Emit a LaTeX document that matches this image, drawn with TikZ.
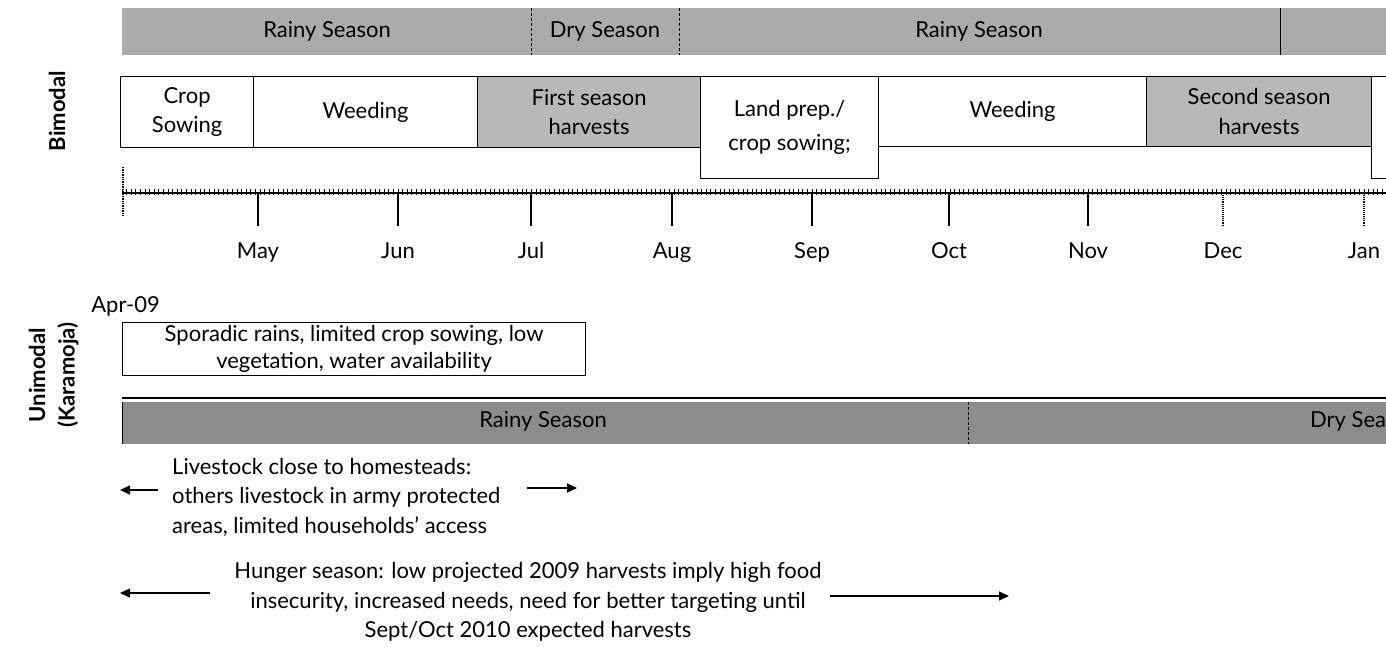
\documentclass[tikz,border=0pt]{standalone}
\usepackage{fontspec}
\setmainfont{Lato}
\usetikzlibrary{arrows.meta}
\begin{document}
\begin{tikzpicture}[x=1pt,y=-1pt,
  every node/.style={font=\fontsize{22}{29.5}\selectfont, inner sep=0pt, text=black},
  seasonbar/.style={fill=black!33, draw=none, anchor=north west, minimum height=47pt},
  unibar/.style={fill=black!45, draw=none, anchor=north west, minimum height=42pt},
  actbox/.style={draw=black, line width=1.2pt, fill=white, anchor=north west, align=center},
  harvbox/.style={draw=black, line width=1.2pt, fill=black!28, anchor=north west, align=center},
  sidelbl/.style={rotate=90, font=\fontsize{22}{24}\selectfont\bfseries},
  arr/.style={line width=1.4pt, -{Triangle[length=10pt,width=9pt]}},
  divider/.style={line width=0.8pt, densely dashed},
  majtick/.style={line width=1.1pt},
  dottick/.style={line width=1.1pt, densely dotted}
]
\useasboundingbox (0,0) rectangle (1386,646);
\clip (0,0) rectangle (1386,646);

% ---------- Bimodal: seasons ----------
\node[seasonbar, minimum width=409pt] (rs1) at (122,8) {};
\node[seasonbar, minimum width=148pt] (ds1) at (531,8) {};
\node[seasonbar, minimum width=601pt] (rs2) at (679,8) {};
\node[seasonbar, minimum width=130pt] (xs1) at (1280,8) {};
\node (rs1t) at (327,31) {Rainy Season};
\node (ds1t) at (605,31) {Dry Season};
\node (rs2t) at (979,31) {Rainy Season};
\draw[divider] (ds1.north west) -- (ds1.south west);
\draw[divider] (rs2.north west) -- (rs2.south west);
\draw[line width=0.8pt] (xs1.north west) -- (xs1.south west);

% ---------- Bimodal: activities ----------
\node[actbox, minimum width=133pt, minimum height=71pt] (cs) at (120,76) {Crop\\Sowing};
\node[actbox, minimum width=224pt, minimum height=71pt] (wd1) at (253,76) {Weeding};
\node[harvbox, minimum width=223pt, minimum height=71pt] (fh) at (477,76) {First season\\harvests};
\node[actbox, minimum width=178pt, minimum height=102pt, font=\fontsize{22}{34}\selectfont] (lp) at (700,76) {Land prep./\\crop sowing;};
\node[actbox, minimum width=268pt, minimum height=70pt] (wd2) at (878,76) {Weeding};
\node[harvbox, minimum width=225pt, minimum height=70pt] (sh) at (1146,76) {Second season\\harvests};
\node[actbox, minimum width=60pt, minimum height=102pt] (nx) at (1371,76) {};

\node[sidelbl] (bim) at (57,111) {Bimodal};

% ---------- time axis ----------
\coordinate (ax0) at (122,193);
\coordinate (ax1) at (1390,193);
\draw[line width=2.4pt] (ax0) -- (ax1);
\foreach \i in {0,...,276} {
  \draw[line width=0.8pt] (122+\i*4.6,188.5) -- (122+\i*4.6,195);
}
\coordinate (lt0) at (123,167);
\coordinate (lt1) at (123,216);
\draw[line width=1.4pt, densely dotted] (lt0) -- (lt1);
\foreach \x/\m in {258/May,398/Jun,531/Jul,672/Aug,812/Sep,949/Oct,1088/Nov} {
  \coordinate (t\m) at (\x,193);
  \draw[majtick] (t\m) -- ++(0,33);
  \node[anchor=base] (l\m) at (\x,258) {\m};
}
\foreach \x/\m in {1223/Dec,1364/Jan} {
  \coordinate (t\m) at (\x,193);
  \draw[dottick] (t\m) -- ++(0,33);
  \node[anchor=base] (l\m) at (\x,258) {\m};
}

% ---------- Unimodal ----------
\node[anchor=east] (apr) at (160,306) {Apr-09};
\node[actbox, minimum width=463pt, minimum height=53pt, font=\fontsize{22}{27}\selectfont] (spo) at (122,322)
  {Sporadic rains, limited crop sowing, low\\vegetation, water availability};

\coordinate (ul0) at (122,398);
\coordinate (ul1) at (1390,398);
\draw[line width=1.5pt] (ul0) -- (ul1);
\node[unibar, minimum width=846pt] (urs) at (122,402) {};
\node[unibar, minimum width=430pt] (uds) at (968,402) {};
\node (urst) at (543,421) {Rainy Season};
\node[anchor=west] (udst) at (1310,421) {Dry Season};
\draw[divider] (uds.north west) -- (uds.south west);
\draw[line width=1pt] (urs.north west) -- (urs.south west);

\node[sidelbl] (uni) at (37,375) {Unimodal};
\node[sidelbl] (kar) at (68,375) {(Karamoja)};

\node[anchor=west, align=left] (live) at (172,497)
  {Livestock close to homesteads:\\others livestock in army protected\\areas, limited households' access};
\coordinate (la0) at (158,490);
\coordinate (la1) at (120,490);
\coordinate (ra0) at (527,488);
\coordinate (ra1) at (577,488);
\draw[arr] (la0) -- (la1);
\draw[arr] (ra0) -- (ra1);

\node[align=center] (hun) at (528,602)
  {Hunger season: low projected 2009 harvests imply high food\\insecurity, increased needs, need for better targeting until\\Sept/Oct 2010 expected harvests};
\coordinate (ha0) at (210,593);
\coordinate (ha1) at (120,593);
\coordinate (hb0) at (830,596);
\coordinate (hb1) at (1009,596);
\draw[arr] (ha0) -- (ha1);
\draw[arr] (hb0) -- (hb1);
\end{tikzpicture}
\end{document}
